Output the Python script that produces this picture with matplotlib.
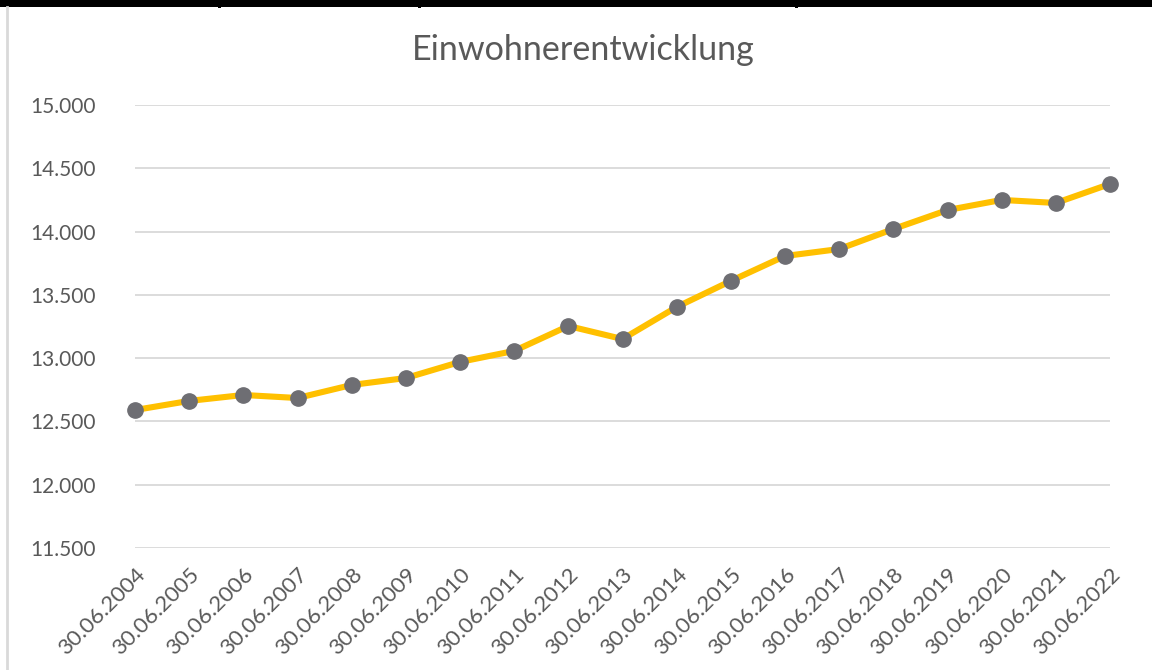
import matplotlib.pyplot as plt
from matplotlib.lines import Line2D
from matplotlib.patches import Rectangle

# --- data ---
dates = [
    "30.06.2004", "30.06.2005", "30.06.2006", "30.06.2007", "30.06.2008",
    "30.06.2009", "30.06.2010", "30.06.2011", "30.06.2012", "30.06.2013",
    "30.06.2014", "30.06.2015", "30.06.2016", "30.06.2017", "30.06.2018",
    "30.06.2019", "30.06.2020", "30.06.2021", "30.06.2022",
]
einwohner = [
    12590, 12662, 12709, 12685, 12788,
    12843, 12970, 13057, 13254, 13151,
    13404, 13610, 13807, 13862, 14020,
    14170, 14250, 14226, 14376,
]
y_ticks = [11500, 12000, 12500, 13000, 13500, 14000, 14500, 15000]

TEXT = "#595959"
GRID = "#d9d9d9"

plt.rcParams["font.family"] = ["Lato", "DejaVu Sans"]

W, H = 1152, 670
fig = plt.figure(figsize=(W / 100, H / 100), dpi=100)
ax = fig.add_axes([135 / W, 1 - 548 / H, (1110 - 135) / W, (548 - 105) / H])

x = list(range(len(dates)))
ax.plot(x, einwohner, color="#FFC000", linewidth=4.4, zorder=3,
        marker="o", markersize=11, markerfacecolor="#6e6e73",
        markeredgecolor="#6e6e73", solid_capstyle="round")

ax.set_xlim(0, len(dates) - 1)
ax.set_ylim(y_ticks[0], y_ticks[-1])
ax.set_yticks(y_ticks)
ax.set_yticklabels([f"{v:,}".replace(",", ".") for v in y_ticks])
ax.set_xticks(x)
ax.set_xticklabels(dates, rotation=45, ha="right", rotation_mode="anchor")

ax.grid(axis="y", color=GRID, linewidth=1.3, zorder=0)
for s in ax.spines.values():
    s.set_visible(False)
ax.tick_params(axis="both", length=0, colors=TEXT)
ax.tick_params(axis="y", pad=28, labelsize=15)
ax.tick_params(axis="x", pad=12, labelsize=16)
for ln in ax.lines:
    ln.set_clip_on(False)

fig.text(583 / W, 1 - 50 / H, "Einwohnerentwicklung", ha="center", va="center",
         fontsize=24.6, color=TEXT)

# frame pieces around the chart area
fig.add_artist(Rectangle((0, 1 - 7 / H), 1, 7 / H, transform=fig.transFigure,
                         color="black", lw=0))
for xp in [218, 418, 795]:
    fig.add_artist(Rectangle((xp / W, 1 - 8 / H), 3 / W, 8 / H,
                             transform=fig.transFigure, color="black", lw=0))
fig.add_artist(Line2D([7 / W, 7 / W], [0, 1 - 7 / H], transform=fig.transFigure,
                      color=GRID, linewidth=2))

fig.savefig("out.png", dpi=100)
